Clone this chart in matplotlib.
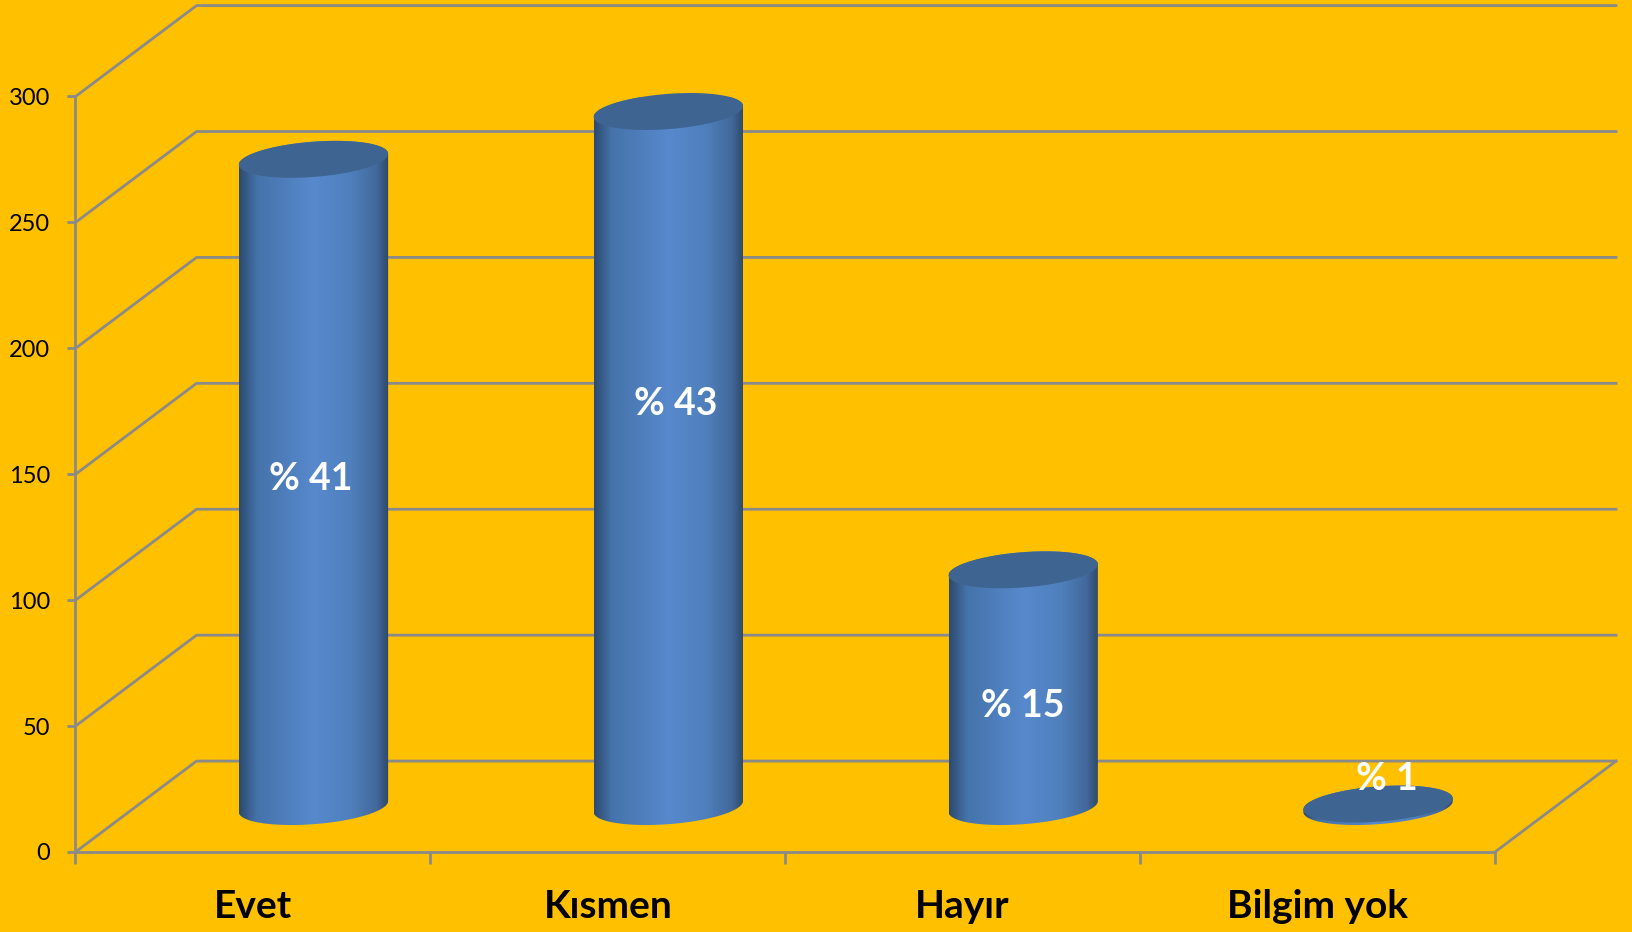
import numpy as np
import matplotlib
matplotlib.use("Agg")
import matplotlib.pyplot as plt
from matplotlib.colors import LinearSegmentedColormap
from matplotlib.patches import Polygon

# Veriler
categories = ["Evet", "Kısmen", "Hayır", "Bilgim yok"]
values = [257, 276, 94, 1]
percent_labels = ["% 41", "% 43", "% 15", "% 1"]
y_ticks = [0, 50, 100, 150, 200, 250, 300]

# Etiketlerin yeri (veri birimi)
label_dx = [-0.007, 0.02, 0.0, 0.026]
label_y = [148, 178, 58, 29]

# Renkler
BG = "#FFC000"
GREY = "#8A8A8A"
TOP = "#3E6491"
stops = [(0.0, "#2D4A6F"), (0.12, "#4573AA"), (0.5, "#5789CD"),
         (0.75, "#4F7FBC"), (0.92, "#42699B"), (1.0, "#2E4766")]
cyl_cmap = LinearSegmentedColormap.from_list("cyl", stops)

# 3B geometri (veri birimi)
DEPTH_X = 0.341
DEPTH_Y = 36.1
RADIUS_X = 0.2104
RADIUS_Y = 7.0
SKEW_Y = 2.18

fig = plt.figure(figsize=(16.33, 9.32), dpi=100, facecolor=BG)
ax = fig.add_axes([75.5 / 1633, 1 - 852 / 932, 1419.5 / 1633, 755.5 / 932])
ax.patch.set_alpha(0)


def ellipse(cx, cy, t):
    return cx + RADIUS_X * np.cos(t), cy + SKEW_Y * np.cos(t) + RADIUS_Y * np.sin(t)


# Izgara: arka duvar ve sol duvar
for v in y_ticks:
    ax.plot([0, DEPTH_X, 4 + DEPTH_X], [v, v + DEPTH_Y, v + DEPTH_Y],
            color=GREY, lw=2, clip_on=False, zorder=1)
ax.plot([4, 4 + DEPTH_X], [0, DEPTH_Y], color=GREY, lw=2, clip_on=False, zorder=1)

# Silindirler
for i, val in enumerate(values):
    cx = i + 0.5 + DEPTH_X / 2
    base = DEPTH_Y / 2
    top = base + val

    t_low = np.linspace(np.pi, 2 * np.pi, 80)
    t_up = np.linspace(0, np.pi, 80)
    xb, yb = ellipse(cx, base, t_low)
    xt, yt = ellipse(cx, top, t_up)
    body = Polygon(np.column_stack([np.r_[xb, xt], np.r_[yb, yt]]),
                   closed=True, fc="none", ec="none", transform=ax.transData)
    ax.add_patch(body)

    grad = np.linspace(0, 1, 256).reshape(1, -1)
    im = ax.imshow(grad, cmap=cyl_cmap, aspect="auto", zorder=2,
                   extent=[cx - RADIUS_X, cx + RADIUS_X, base - 20, top + 20])
    im.set_clip_path(body)

    t_all = np.linspace(0, 2 * np.pi, 160)
    xe, ye = ellipse(cx, top, t_all)
    ax.add_patch(Polygon(np.column_stack([xe, ye]), closed=True, fc=TOP, ec="none",
                         clip_on=False, zorder=3))

    ax.text(cx + label_dx[i], label_y[i], percent_labels[i], color="white", ha="center",
            va="center", fontsize=27, fontweight="bold", family="Lato", zorder=5)

# Eksenler
ax.set_xlim(0, 4)
ax.set_ylim(0, 300)
for side in ["top", "right"]:
    ax.spines[side].set_visible(False)
for side in ["left", "bottom"]:
    ax.spines[side].set_color(GREY)
    ax.spines[side].set_linewidth(2)

ax.set_yticks(y_ticks)
ax.set_yticklabels(y_ticks, family="Lato", fontsize=17)
ax.tick_params(axis="y", color=GREY, width=2, length=5.8, pad=12.5, labelcolor="black")

ax.set_xticks(range(5))
ax.set_xticklabels([])
ax.tick_params(axis="x", which="major", color=GREY, width=2, length=8.6)
ax.set_xticks(np.arange(4) + 0.5, minor=True)
ax.set_xticklabels(categories, minor=True, family="Lato", fontsize=28, fontweight="bold")
ax.tick_params(axis="x", which="minor", length=0, pad=27, labelcolor="black")

fig.savefig("out.png", dpi=100, facecolor=BG)
